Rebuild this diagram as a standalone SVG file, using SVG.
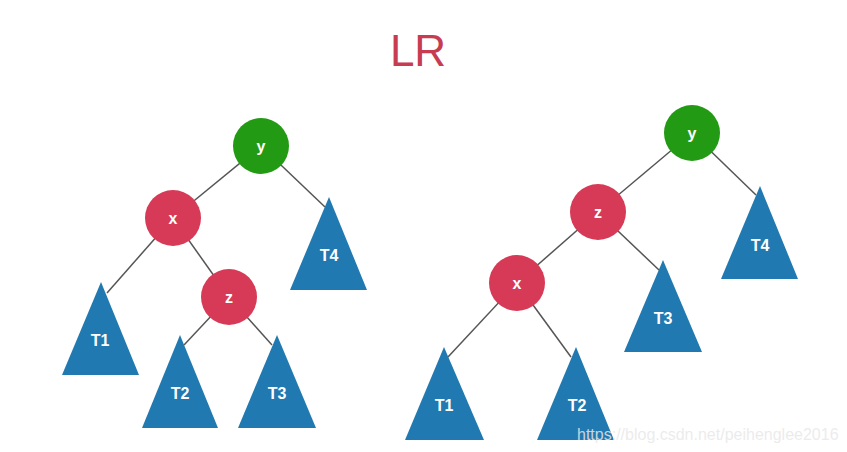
<svg xmlns="http://www.w3.org/2000/svg" width="847" height="452" viewBox="0 0 847 452">
<style>
.edge{stroke:#555;stroke-width:1.5;fill:none}
.g{fill:#229a14}
.r{fill:#d63a56}
.t{fill:#2079b0}
.lbl{font-family:"Liberation Sans",Arial,sans-serif;font-weight:bold;font-size:16px;fill:#fff;text-anchor:middle}
</style>
<rect width="847" height="452" fill="#fff"/>
<text x="418" y="66" font-family="Liberation Sans, Arial, sans-serif" font-size="44" fill="#c83c52" text-anchor="middle">LR</text>
<g id="connectors">
<line class="edge" x1="261" y1="146" x2="173" y2="218"/>
<line class="edge" x1="261" y1="146" x2="325" y2="207"/>
<line class="edge" x1="173" y1="218" x2="107" y2="293"/>
<line class="edge" x1="173" y1="218" x2="229" y2="297"/>
<line class="edge" x1="229" y1="297" x2="184" y2="345"/>
<line class="edge" x1="229" y1="297" x2="272" y2="345"/>
<line class="edge" x1="692" y1="133" x2="598" y2="212"/>
<line class="edge" x1="692" y1="133" x2="756" y2="195"/>
<line class="edge" x1="598" y1="212" x2="517" y2="283"/>
<line class="edge" x1="598" y1="212" x2="659" y2="270"/>
<line class="edge" x1="517" y1="283" x2="448" y2="357"/>
<line class="edge" x1="517" y1="283" x2="571" y2="357"/>
</g>
<g id="L_y"><circle class="g" cx="261" cy="146" r="28"/><text class="lbl" x="261" y="152">y</text></g>
<g id="L_x"><circle class="r" cx="173" cy="218" r="28"/><text class="lbl" x="173" y="224">x</text></g>
<g id="L_z"><circle class="r" cx="229" cy="297" r="28"/><text class="lbl" x="229" y="303">z</text></g>
<g id="L_T4"><polygon class="t" points="329,197 367,290 290,290"/><text class="lbl" x="329" y="261">T4</text></g>
<g id="L_T1"><polygon class="t" points="101,282 139,375 62,375"/><text class="lbl" x="100" y="346">T1</text></g>
<g id="L_T2"><polygon class="t" points="180,335 218,428 142,428"/><text class="lbl" x="180" y="399">T2</text></g>
<g id="L_T3"><polygon class="t" points="277,335 316,428 238,428"/><text class="lbl" x="277" y="399">T3</text></g>
<g id="R_y"><circle class="g" cx="692" cy="133" r="28"/><text class="lbl" x="692" y="139">y</text></g>
<g id="R_z"><circle class="r" cx="598" cy="212" r="28"/><text class="lbl" x="598" y="218">z</text></g>
<g id="R_x"><circle class="r" cx="517" cy="283" r="28"/><text class="lbl" x="517" y="289">x</text></g>
<g id="R_T4"><polygon class="t" points="760,186 798,279 721,279"/><text class="lbl" x="760" y="251">T4</text></g>
<g id="R_T3"><polygon class="t" points="663,260 702,352 624,352"/><text class="lbl" x="663" y="324">T3</text></g>
<g id="R_T1"><polygon class="t" points="444,347 484,440 405,440"/><text class="lbl" x="444" y="411">T1</text></g>
<g id="R_T2"><polygon class="t" points="576,347 614,440 537,440"/><text class="lbl" x="577" y="411">T2</text></g>
<text x="577" y="440" font-family="Liberation Sans, Arial, sans-serif" font-size="16" fill="#e8e8e8" fill-opacity="0.85">https://blog.csdn.net/peihenglee2016</text>
</svg>
